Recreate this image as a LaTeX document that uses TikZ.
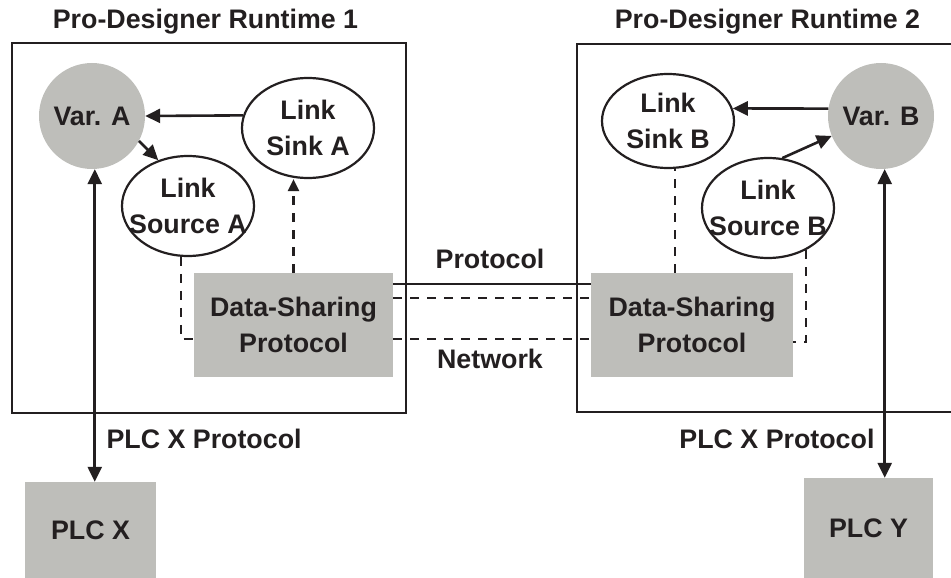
\documentclass[tikz,border=0pt]{standalone}
\usepackage{fontspec}
\setmainfont{Liberation Sans}
\usetikzlibrary{shapes.geometric,arrows.meta,calc}
\definecolor{ink}{RGB}{35,31,32}
\definecolor{boxgray}{RGB}{190,190,186}
\begin{document}
\begin{tikzpicture}[x=1pt,y=-1pt,
  every node/.style={font=\fontsize{26.8}{36.7}\selectfont\bfseries, text=ink},
  frame/.style={draw=ink, line width=2.3pt},
  varnode/.style={circle, fill=boxgray, minimum size=106pt, inner sep=0pt},
  linknode/.style={ellipse, draw=ink, line width=2.2pt, minimum width=132pt, minimum height=100pt, inner sep=0pt},
  graybox/.style={rectangle, fill=boxgray, inner sep=0pt, align=center},
  arr/.style={draw=ink, line width=2.6pt, -{Triangle[length=15pt,width=14pt]}},
  arrboth/.style={draw=ink, line width=2.6pt, {Triangle[length=15pt,width=14pt]}-{Triangle[length=15pt,width=14pt]}},
  dashline/.style={draw=ink, line width=2.2pt, dash pattern=on 9pt off 8pt},
  dasharr/.style={draw=ink, line width=2.2pt, dash pattern=on 9pt off 8pt, -{Triangle[length=12pt,width=11pt]}},
  solidline/.style={draw=ink, line width=2.2pt}]
\useasboundingbox (0,0) rectangle (951,578);
% runtime frames
\draw[frame] (12,43) rectangle (406,413);
\draw[frame] (953,44) -- (577,44) -- (577,412) -- (953,412);
\node (t1) at (205.5,22) {Pro-Designer Runtime 1};
\node (t2) at (767.5,22) {Pro-Designer Runtime 2};
% runtime 1
\node[varnode] (varA) at (92,116) {Var. A};
\node[linknode, label={[align=center]center:Link\\Sink A}] (sinkA) at (308,128) {};
\node[linknode, label={[align=center]center:Link\\Source A}] (sourceA) at (188,206) {};
\node[graybox, minimum width=199pt, minimum height=104pt] (dsA) at (293.5,325) {Data-Sharing\\Protocol};
% runtime 2
\node[varnode] (varB) at (881,116) {Var. B};
\node[linknode, minimum height=94pt, label={[align=center]center:Link\\Sink B}] (sinkB) at (668,121) {};
\node[linknode, label={[align=center]center:Link\\Source B}] (sourceB) at (768,208) {};
\node[graybox, minimum width=202pt, minimum height=104pt] (dsB) at (692,325) {Data-Sharing\\Protocol};
% PLCs
\node[graybox, minimum width=131pt, minimum height=96pt] (plcX) at (90.5,530) {PLC X};
\node[graybox, minimum width=129pt, minimum height=100pt] (plcY) at (868.5,528) {PLC Y};
% arrows runtime 1
\draw[arr] (sinkA.169) -- (varA.east);
\draw[arr] (varA.-28) -- (sourceA.123);
\draw[dasharr] (dsA.north) -- (dsA.north |- sinkA.south);
\draw[dashline] (sourceA.262) |- ([yshift=-14pt]dsA.west);
\draw[arrboth] (varA.-87) -- (varA.-87 |- plcX.north);
% arrows runtime 2
\draw[arr] (varB.172) -- (sinkB.11);
\draw[arr] (sourceB.74) -- (varB.202);
\draw[dashline] ([xshift=-17pt]dsB.north) -- ([xshift=-17pt]dsB.north |- sinkB.south);
\draw[dashline] (sourceB.-48) |- ([yshift=-17pt]dsB.east);
\draw[arrboth] (varB.-86) -- (varB.-86 |- plcY.north);
% network links
\draw[solidline] ([yshift=41pt]dsA.east) -- ([yshift=41pt]dsB.west);
\draw[dashline] ([yshift=27pt]dsA.east) -- ([yshift=27pt]dsB.west);
\draw[dashline] ([yshift=-14pt]dsA.east) -- ([yshift=-14pt]dsB.west);
\node (proto) at (490,259) {Protocol};
\node (netw) at (490,359) {Network};
\node[anchor=west] (plcxA) at (103,439) {PLC X Protocol};
\node[anchor=east] (plcxB) at (878,439) {PLC X Protocol};
\end{tikzpicture}
\end{document}
